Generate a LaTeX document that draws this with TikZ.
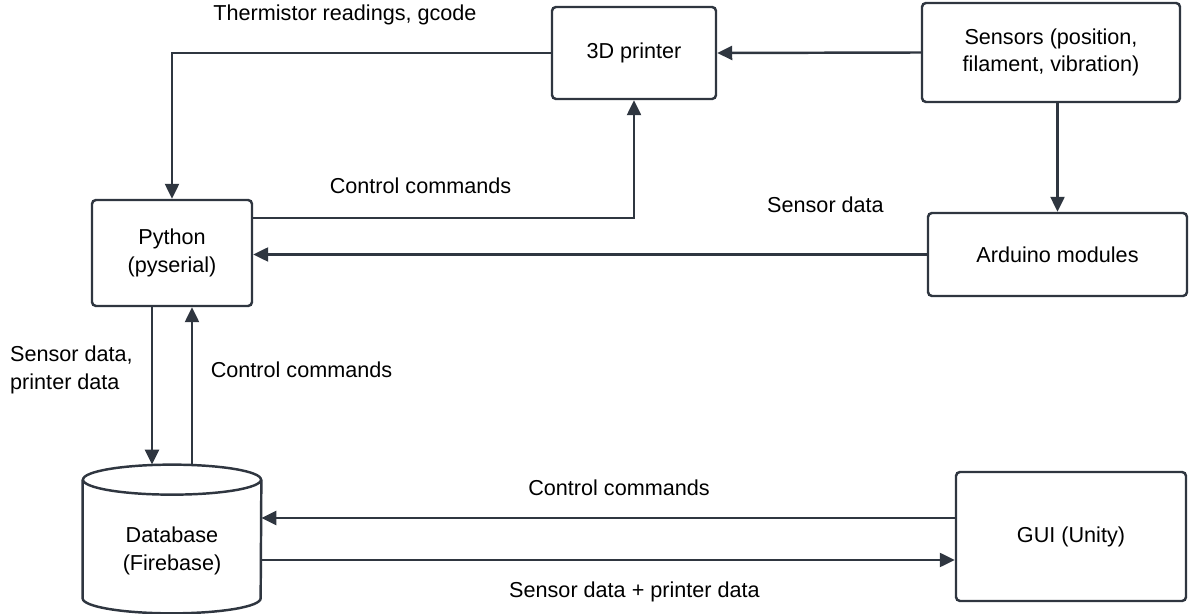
\documentclass[tikz,border=0pt]{standalone}
\usepackage{fontspec}
\setmainfont{Liberation Sans}
\usetikzlibrary{arrows.meta}
\definecolor{linecol}{HTML}{2F3640}
\begin{document}
\begin{tikzpicture}[
    font=\fontsize{12.3}{15.6}\selectfont,
    box/.style={draw=linecol, line width=1.4pt, rounded corners=0.08cm, align=center, inner sep=0pt},
    flow/.style={draw=linecol, line width=1.4pt, -{Triangle[length=0.3cm,width=0.28cm]}},
    ]
        \useasboundingbox (0,0) rectangle (23.78,-12.28);

        \node[box, minimum width=3.28cm, minimum height=1.84cm] (printer) at (12.68,-1.06) {3D printer};
        \node[box, minimum width=5.16cm, minimum height=1.98cm] (sensors) at (21.02,-1.05) {Sensors (position,\\filament, vibration)};
        \node[box, minimum width=3.2cm, minimum height=2.12cm] (python) at (3.44,-5.06) {Python\\(pyserial)};
        \node[box, minimum width=5.18cm, minimum height=1.66cm] (arduino) at (21.15,-5.09) {Arduino modules};
        \node[box, minimum width=4.6cm, minimum height=2.58cm] (gui) at (21.42,-10.73) {GUI (Unity)};

        \node[minimum width=3.56cm, minimum height=2.96cm, inner sep=0pt] (db) at (3.44,-10.78) {};
        \draw[linecol, line width=1.4pt] ([yshift=-0.3cm]db.north) ellipse (1.78 and 0.3);
        \draw[linecol, line width=1.4pt] ([yshift=-0.3cm]db.north west) -- ([yshift=0.3cm]db.south west)
            arc (180:360:1.78 and 0.3) -- ([yshift=-0.3cm]db.north east);
        \node[align=center] (dbtext) at ([yshift=-0.24cm]db.center) {Database\\(Firebase)};

        \coordinate (guiin) at ([yshift=0.37cm]gui.west);
        \coordinate (guiout) at ([yshift=-0.47cm]gui.west);

        \draw[flow] (sensors.west) -- (printer.east);
        \draw[flow] (printer.west) -| (python.north);
        \node (thermo) at (6.9,-0.3) {Thermistor readings, gcode};
        \draw[flow] ([yshift=0.7cm]python.east) -| (printer.south);
        \node (ctrltop) at (8.41,-3.72) {Control commands};
        \draw[flow] (arduino.west) -- (python.east |- arduino.west);
        \node (sensdata) at (16.51,-4.1) {Sensor data};
        \draw[flow] (arduino.north |- sensors.south) -- (arduino.north);

        \draw[flow] ([xshift=-0.4cm]python.south) -- ([xshift=-0.4cm]db.north);
        \draw[flow] ([xshift=0.4cm]db.north) -- ([xshift=0.4cm]python.south);
        \node[align=left, anchor=west] (pydown) at (0.08,-7.4) {Sensor data,\\printer data};
        \node (ctrlmid) at (6.03,-7.4) {Control commands};

        \draw[flow] (guiin) -- (db.east |- guiin);
        \draw[flow] (db.east |- guiout) -- (guiout);
        \node (ctrlbot) at (12.38,-9.76) {Control commands};
        \node (dbdata) at (12.69,-11.84) {Sensor data + printer data};

\end{tikzpicture}
\end{document}
